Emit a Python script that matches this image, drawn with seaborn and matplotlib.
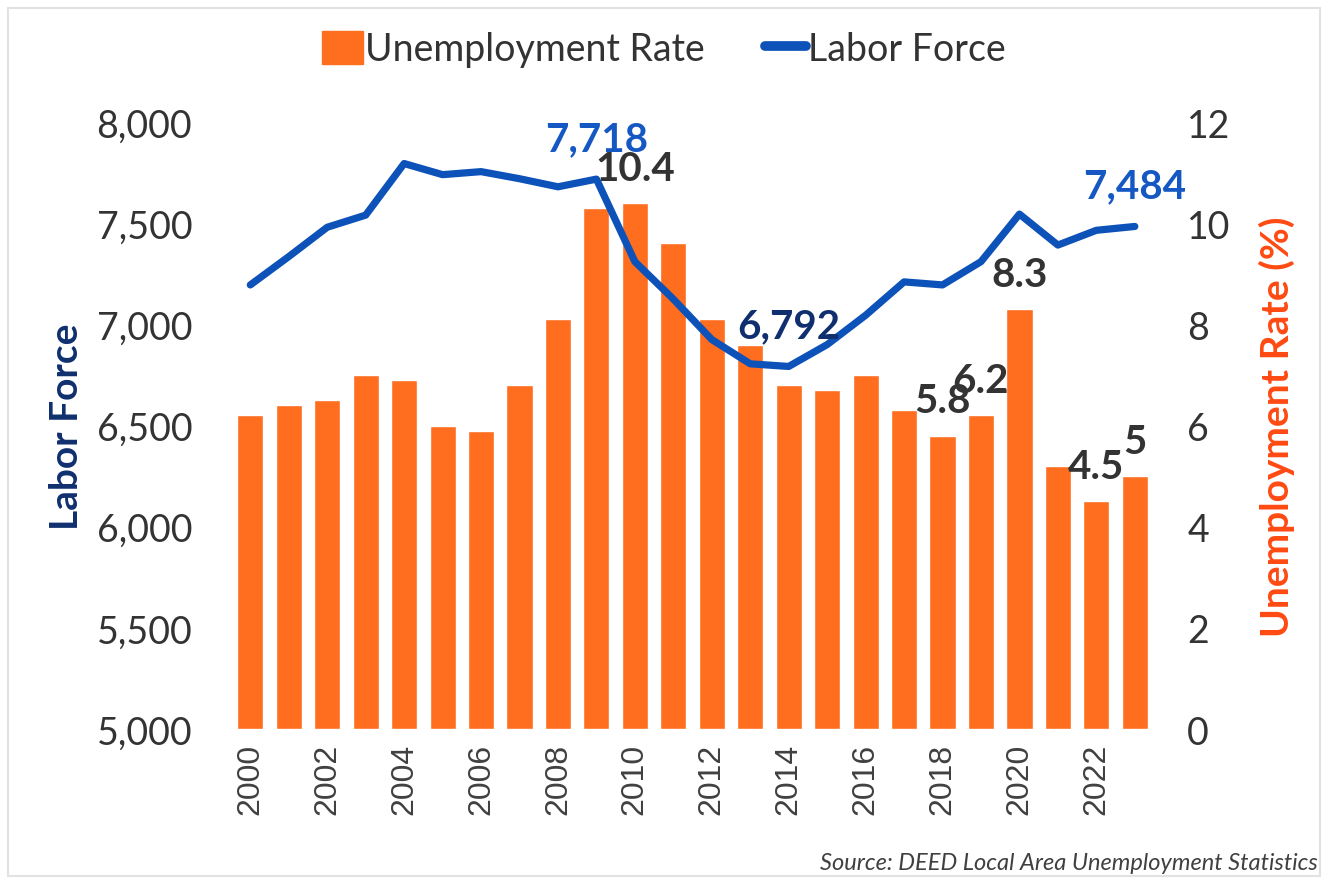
import matplotlib
matplotlib.use("Agg")
import matplotlib.pyplot as plt
import seaborn as sns
import pandas as pd
from matplotlib.patches import Patch, Rectangle
from matplotlib.lines import Line2D

years = list(range(2000, 2024))
unemployment_rate = [6.2, 6.4, 6.5, 7.0, 6.9, 6.0, 5.9, 6.8, 8.1, 10.3,
                     10.4, 9.6, 8.1, 7.6, 6.8, 6.7, 7.0, 6.3, 5.8, 6.2,
                     8.3, 5.2, 4.5, 5.0]
labor_force = [7195, 7335, 7480, 7540, 7795, 7740, 7755, 7720, 7680, 7718,
               7310, 7125, 6925, 6805, 6792, 6900, 7045, 7210, 7195, 7310,
               7545, 7392, 7465, 7484]

# which points get a value label
rate_labels = {2010: "10.4", 2018: "5.8", 2019: "6.2", 2020: "8.3", 2022: "4.5", 2023: "5"}
force_labels = {2009: ("7,718", "#1558c4"), 2014: ("6,792", "#0f2f6e"), 2023: ("7,484", "#1558c4")}

ORANGE = "#ff6d1f"
BLUE = "#0d52b8"

df = pd.DataFrame({"year": [str(y) for y in years],
                   "pos": range(len(years)),
                   "rate": unemployment_rate,
                   "force": labor_force})

sns.set_theme(style="white")
plt.rcParams["font.family"] = ["Lato", "DejaVu Sans"]

fig = plt.figure(figsize=(13.28, 8.79), dpi=100)
ax = fig.add_axes([0.174, 0.1695, 0.695, 0.6905])
ax2 = ax.twinx()

# bars on the right axis
sns.barplot(data=df, x="year", y="rate", color=ORANGE, saturation=1,
            width=0.68, ax=ax2)
ax2.set_ylim(0, 12)
ax2.set_yticks(range(0, 13, 2))
ax2.set_ylabel("Unemployment Rate (%)", color="#ff4a12", fontsize=28,
               fontweight="bold", labelpad=20)

# line on the left axis, drawn above the bars
sns.lineplot(data=df, x="pos", y="force", color=BLUE, linewidth=5.2, ax=ax)
ax.set_zorder(ax2.get_zorder() + 1)
ax.patch.set_visible(False)
ax.set_ylim(5000, 8000)
ax.set_yticks(range(5000, 8001, 500))
ax.set_yticklabels([f"{v:,}" for v in range(5000, 8001, 500)])
ax.set_xlim(-0.5, len(years) - 0.5)
ax.set_ylabel("Labor Force", color="#0f2f6e", fontsize=28,
              fontweight="bold", labelpad=9)

ax.set_xticks(range(0, len(years), 2))
ax.set_xticklabels([str(y) for y in years[::2]], rotation=90,
                   fontsize=23, color="#404040", family="Liberation Sans")
ax.set_xlabel("")
ax2.set_xlabel("")

for a in (ax, ax2):
    for s in a.spines.values():
        s.set_visible(False)
    a.tick_params(axis="y", labelsize=27, colors="#333333", length=0)
    a.tick_params(axis="x", length=0, pad=10)
ax.tick_params(axis="y", pad=28)
ax2.tick_params(axis="y", pad=24)

for i, y in enumerate(years):
    if y in rate_labels:
        ax2.annotate(rate_labels[y], (i, unemployment_rate[i]),
                     xytext=(0, 25), textcoords="offset points",
                     ha="center", va="center", fontsize=29,
                     fontweight="bold", color="#333333")
    if y in force_labels:
        txt, col = force_labels[y]
        ax.annotate(txt, (i, labor_force[i]), xytext=(0, 29),
                    textcoords="offset points", ha="center", va="center",
                    fontsize=29, fontweight="bold", color=col)

handles = [Patch(color=ORANGE, label="Unemployment Rate"),
           Line2D([0], [0], color=BLUE, linewidth=7, label="Labor Force")]
fig.legend(handles=handles, loc="center", bbox_to_anchor=(0.5, 0.943),
           ncol=2, frameon=False, fontsize=27, handlelength=1.1,
           handleheight=1.0, handletextpad=0.05, columnspacing=1.6,
           labelcolor="#333333")

fig.text(0.992, 0.006, "Source: DEED Local Area Unemployment Statistics",
         ha="right", va="bottom", fontsize=17, style="italic", color="#404040")

fig.patches.append(Rectangle((0.006, 0.002), 0.988, 0.988, transform=fig.transFigure,
                             fill=False, edgecolor="#e2e2e2", linewidth=1.5))

fig.savefig("out.png", dpi=100)
